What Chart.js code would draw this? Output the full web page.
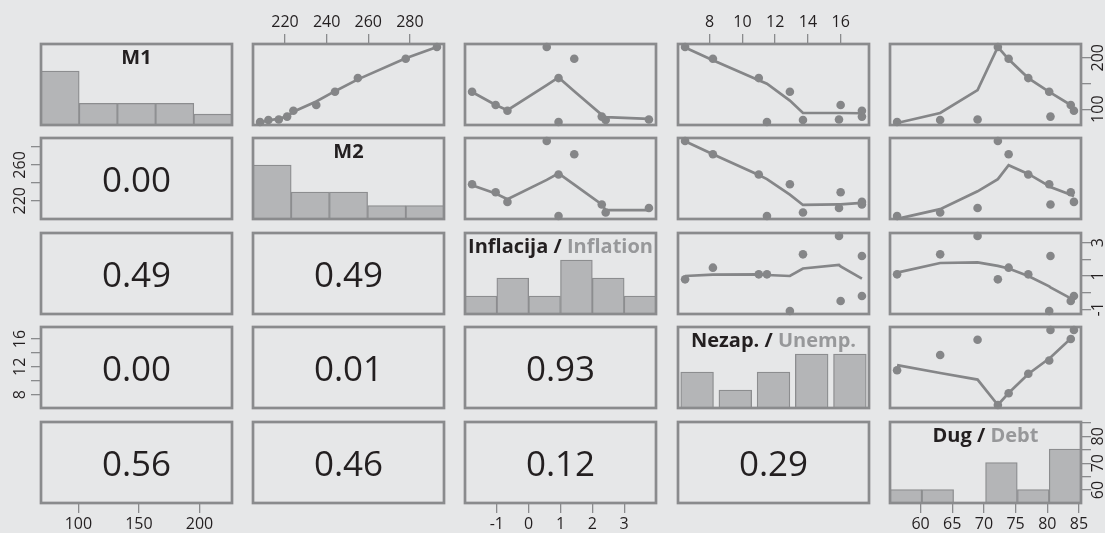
<!DOCTYPE html>
<html lang="hr">
<head>
<meta charset="utf-8">
<title>M1, M2, inflacija, nezaposlenost, dug</title>
<script src="https://cdn.jsdelivr.net/npm/chart.js@4.4.1/dist/chart.umd.min.js"></script>
<style>
  html, body { margin: 0; padding: 0; background: #e6e7e8; }
  #matrix { position: relative; width: 1105px; height: 533px; overflow: hidden; background: #e6e7e8; }
  #matrix canvas { position: absolute; }
  .corr, .title { position: absolute; text-align: center; white-space: nowrap; color: #231f20; font-family: 'Open Sans', sans-serif; }
  .corr { font-size: 35px; }
  .title { font-size: 20px; font-weight: bold; line-height: 20px; }
  .title .en { color: #97989a; }
</style>
</head>
<body>
<div id="matrix"></div>
<script>
// Podaci po godinama (ocitano s grafikona)
var years = [2010, 2011, 2012, 2013, 2014, 2015, 2016, 2017, 2018, 2019];
var m1 = [75, 79, 80, 85.5, 97, 108, 134, 160.5, 198, 221];
var m2 = [208, 212, 217, 221, 224, 235, 244, 255, 278, 293];
var inflation = [1.1, 2.3, 3.4, 2.2, -0.2, -0.5, -1.1, 1.1, 1.5, 0.8];
var unemp = [11.5, 13.7, 15.9, 17.3, 17.3, 16.0, 12.9, 11.0, 8.2, 6.5];
var debt = [56.3, 63.1, 69.0, 80.5, 84.2, 83.7, 80.3, 77.0, 73.9, 72.2];

// lowess linije u gornjem trokutu (y vrijednosti po godinama)
var smoothM1M2 = [74, 78, 81.5, 85.5, 95, 115, 135, 158, 199, 221];
var smoothM1Infl = [161.7, 84.5, 81, 89, 98, 108, 133.5, 161.7, 135, 146.7];
var smoothM1Unemp = [149.6, 92.5, 92.5, 92, 92, 92.5, 116.7, 156.4, 195.4, 220];
var smoothM1Debt = [73, 92.5, 137, 132, 96, 108, 133.5, 160.5, 197, 221];
var smoothM2Infl = [256.4, 214.6, 214.6, 221.2, 227.1, 233.4, 242.8, 256.4, 243.5, 248.9];
var smoothM2Unemp = [249.8, 220.5, 221.2, 222.9, 222.9, 221.2, 232.2, 254.5, 278, 292.8];
var smoothM2Debt = [204.8, 215.8, 236, 240.8, 230.3, 232.2, 242, 255.7, 265.5, 249.8];
var smoothInflUnemp = [1.06, 1.45, 1.66, 0.84, 0.84, 1.57, 1.0, 1.1, 1.08, 1.0];
var smoothInflDebt = [1.2, 1.78, 1.82, 0.32, -0.44, -0.34, 0.38, 1.0, 1.45, 1.61];
var smoothUnempDebt = [12.24, 11.11, 10.16, 13.34, 16.32, 16.07, 13.19, 10.96, 8.22, 6.5];

// histogrami na dijagonali (frekvencije po razredima)
var histM1 = [5, 2, 2, 2, 1];
var histM2 = [4, 2, 2, 1, 1];
var histInfl = [1, 2, 1, 3, 2, 1];
var histUnemp = [2, 1, 2, 3, 3];
var histDebt = [1, 1, 0, 3, 1, 4];

// p-vrijednosti u donjem trokutu, po redovima
var pValues = [[], [0.00], [0.49, 0.49], [0.00, 0.01, 0.93], [0.56, 0.46, 0.12, 0.29]];

// oznake na osima
var ticksM1 = [100, 150, 200];
var ticksM2 = [220, 240, 260, 280];
var ticksInfl = [-1, 0, 1, 2, 3];
var ticksUnemp = [8, 10, 12, 14, 16];
var ticksDebt = [60, 65, 70, 75, 80, 85];
var yLabelsM1 = [100, 200];
var yLabelsM2 = [220, 260];
var yLabelsInfl = [-1, 1, 3];
var yLabelsUnemp = [8, 12, 16];
var yLabelsDebt = [60, 70, 80];

// osi u donjem trokutu koje na slici imaju drukciji raspon
var inflHistRange = [-2, 4];
var m2LowerRange = [199.6, 290.1];

var vars = [
  {values: m1, ticks: ticksM1, yLabels: yLabelsM1, hist: histM1, title: ['M1', '']},
  {values: m2, ticks: ticksM2, yLabels: yLabelsM2, hist: histM2, title: ['M2', ''], lowerY: m2LowerRange},
  {values: inflation, ticks: ticksInfl, yLabels: yLabelsInfl, hist: histInfl, title: ['Inflacija / ', 'Inflation'], lowerX: inflHistRange},
  {values: unemp, ticks: ticksUnemp, yLabels: yLabelsUnemp, hist: histUnemp, title: ['Nezap. / ', 'Unemp.']},
  {values: debt, ticks: ticksDebt, yLabels: yLabelsDebt, hist: histDebt, title: ['Dug / ', 'Debt']}
];
var smoothLines = [
  [null, smoothM1M2, smoothM1Infl, smoothM1Unemp, smoothM1Debt],
  [null, null, smoothM2Infl, smoothM2Unemp, smoothM2Debt],
  [null, null, null, smoothInflUnemp, smoothInflDebt],
  [null, null, null, null, smoothUnempDebt]
];

// raspored panela
var COL_X = 40.7, COL_STEP = 212.3, COL_W = 191;
var ROW_Y = 43.65, ROW_STEP = 94.6, ROW_H = 81;
var M = 40;          // prostor oko panela za osi
var TL = 10;         // duljina crtica
var TICK_SIZE = 16;
var TICK_FONT = "'Open Sans', sans-serif";
var TOP_DIST = 21.8, BOTTOM_DIST = 21, LEFT_DIST = 20.5, RIGHT_DIST = 17;

var GREY = '#858688';
var FRAME = '#8a8b8d';
var BAR_FILL = '#b4b5b7';
var BAR_LINE = '#8c8d8f';
var INK = '#231f20';

var measureCtx = document.createElement('canvas').getContext('2d');

function rangeOf(values) {
  var lo = Math.min.apply(null, values);
  var hi = Math.max.apply(null, values);
  var pad = (hi - lo) * 0.04;
  return [lo - pad, hi + pad];
}

function widestLabel(labels) {
  measureCtx.font = TICK_SIZE + 'px ' + TICK_FONT;
  var w = 0;
  for (var i = 0; i < labels.length; i++) {
    w = Math.max(w, measureCtx.measureText(String(labels[i])).width);
  }
  return w;
}

function makeScale(v, range, axis, position, show) {
  var labels = axis === 'y' ? v.yLabels : v.ticks;
  var pad;
  if (axis === 'x') {
    pad = (position === 'top' ? TOP_DIST : BOTTOM_DIST) - TL - TICK_SIZE / 2;
  } else {
    pad = (position === 'left' ? LEFT_DIST : RIGHT_DIST) - TL - widestLabel(labels) / 2;
  }
  return {
    type: 'linear',
    axis: axis,
    position: position,
    display: show,
    min: range[0],
    max: range[1],
    offset: false,
    border: {display: false},
    grid: {drawOnChartArea: false, drawTicks: true, tickLength: TL, color: FRAME, lineWidth: 1.3, offset: false},
    ticks: {
      autoSkip: false,
      padding: pad,
      color: INK,
      font: {family: TICK_FONT, size: TICK_SIZE, lineHeight: 1},
      minRotation: axis === 'y' ? 90 : 0,
      maxRotation: axis === 'y' ? 90 : 0,
      crossAlign: axis === 'y' ? 'center' : 'near',
      callback: function(val) {
        return labels.indexOf(val) >= 0 ? String(val) : '';
      }
    },
    afterBuildTicks: function(s) {
      s.ticks = v.ticks.map(function(t) { return {value: t}; });
    },
    afterFit: function(s) {
      if (!show) return;
      if (axis === 'x') s.height = M; else s.width = M;
    }
  };
}

function drawFrame(chart) {
  var a = chart.chartArea, ctx = chart.ctx;
  ctx.save();
  ctx.strokeStyle = FRAME;
  ctx.lineWidth = 2.7;
  ctx.strokeRect(a.left, a.top, a.right - a.left, a.bottom - a.top);
  ctx.restore();
}

var framePlugin = {
  id: 'panelFrame',
  beforeDatasetsDraw: function(chart, args, opts) { if (!opts.onTop) drawFrame(chart); },
  afterDatasetsDraw: function(chart, args, opts) { if (opts.onTop) drawFrame(chart); }
};

var matrix = document.getElementById('matrix');

function makePanel(r, c) {
  var px = Math.round(COL_X + c * COL_STEP);
  var py = Math.round(ROW_Y + r * ROW_STEP);
  var canvas = document.createElement('canvas');
  canvas.width = COL_W + 2 * M;
  canvas.height = ROW_H + 2 * M;
  canvas.style.left = (px - M) + 'px';
  canvas.style.top = (py - M) + 'px';
  matrix.appendChild(canvas);

  var showTop = r === 0 && c % 2 === 1;
  var showBottom = r === 4 && c % 2 === 0;
  var showLeft = c === 0 && r % 2 === 1;
  var showRight = c === 4 && r % 2 === 0;

  var xRange = (r >= c && vars[c].lowerX) ? vars[c].lowerX : rangeOf(vars[c].values);
  var yRange = (r > c && vars[r].lowerY) ? vars[r].lowerY : rangeOf(vars[r].values);

  var scales = {
    x: makeScale(vars[c], xRange, 'x', showTop ? 'top' : 'bottom', showTop || showBottom),
    y: makeScale(vars[r], yRange, 'y', showLeft ? 'left' : 'right', showLeft || showRight)
  };
  var datasets = [];
  var type = 'scatter';

  if (r === c) {
    // histogram
    type = 'bar';
    var hist = vars[c].hist;
    var w = (xRange[1] - xRange[0]) / hist.length;
    var bins = hist.map(function(n, k) { return {x: xRange[0] + (k + 0.5) * w, y: n}; });
    scales.yh = {type: 'linear', axis: 'y', display: false, min: 0, max: 1.5 * Math.max.apply(null, hist)};
    datasets.push({
      type: 'bar', data: bins, xAxisID: 'x', yAxisID: 'yh',
      backgroundColor: BAR_FILL, borderColor: BAR_LINE, borderWidth: 1.3,
      barPercentage: 1, categoryPercentage: 1
    });
  } else if (r < c) {
    var xs = vars[c].values, ys = vars[r].values, fit = smoothLines[r][c];
    var pts = xs.map(function(x, i) { return {x: x, y: ys[i]}; });
    var line = xs.map(function(x, i) { return {x: x, y: fit[i]}; })
      .sort(function(a, b) { return a.x - b.x; });
    datasets.push({
      data: line, showLine: true, pointRadius: 0, borderColor: GREY, borderWidth: 2.7,
      order: 1, clip: false
    });
    datasets.push({
      data: pts, showLine: false, pointRadius: 4.3, pointBackgroundColor: GREY,
      pointBorderWidth: 0, order: 2, clip: false
    });
  }

  new Chart(canvas, {
    type: type,
    data: {datasets: datasets},
    options: {
      responsive: false,
      maintainAspectRatio: false,
      animation: false,
      devicePixelRatio: 1,
      events: [],
      layout: {
        autoPadding: false,
        padding: {
          left: showLeft ? 0 : M,
          right: showRight ? 0 : M,
          top: showTop ? 0 : M,
          bottom: showBottom ? 0 : M
        }
      },
      plugins: {
        legend: {display: false},
        tooltip: {enabled: false},
        panelFrame: {onTop: r === c}
      },
      scales: scales
    },
    plugins: [framePlugin]
  });

  if (r === c) {
    var t = document.createElement('div');
    t.className = 'title';
    t.style.left = px + 'px';
    t.style.width = COL_W + 'px';
    t.style.top = (py + 3.4) + 'px';
    var dark = document.createElement('span');
    dark.textContent = vars[c].title[0];
    var light = document.createElement('span');
    light.className = 'en';
    light.textContent = vars[c].title[1];
    t.appendChild(dark);
    t.appendChild(light);
    matrix.appendChild(t);
  } else if (r > c) {
    var d = document.createElement('div');
    d.className = 'corr';
    d.style.left = px + 'px';
    d.style.width = COL_W + 'px';
    d.style.top = py + 'px';
    d.style.height = ROW_H + 'px';
    d.style.lineHeight = ROW_H + 'px';
    d.textContent = pValues[r][c].toFixed(2);
    matrix.appendChild(d);
  }
}

for (var r = 0; r < 5; r++) {
  for (var c = 0; c < 5; c++) {
    makePanel(r, c);
  }
}
</script>
</body>
</html>
